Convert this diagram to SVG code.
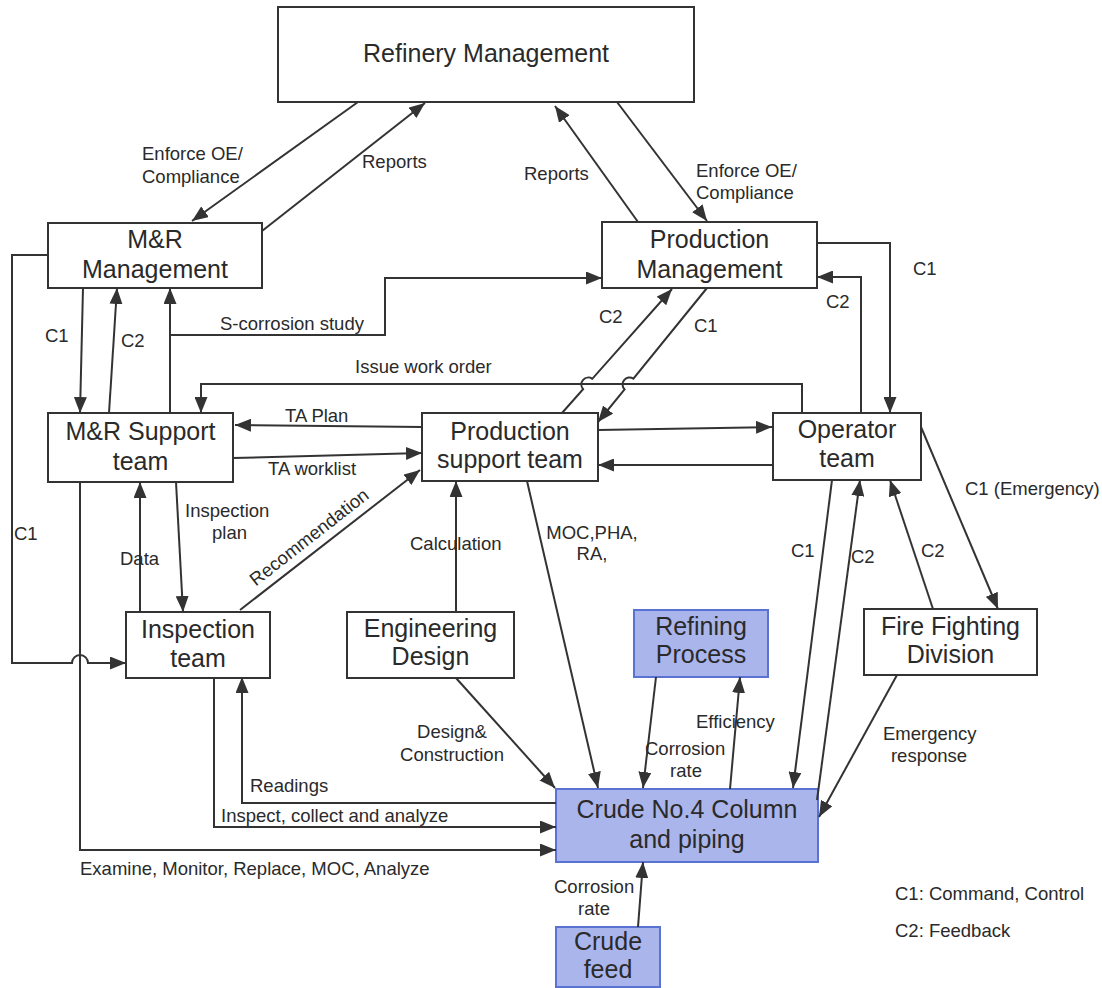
<svg xmlns="http://www.w3.org/2000/svg" width="1102" height="988" viewBox="0 0 1102 988">
  <style>
    .box { fill: #ffffff; stroke: #333333; stroke-width: 2; }
    .blue { fill: #aab5ec; stroke: #5a73d2; stroke-width: 2; }
    .nt { font-family: "Liberation Sans", Arial, sans-serif; font-size: 25px; fill: #2a2a2a; text-anchor: middle; }
    .lt { font-family: "Liberation Sans", Arial, sans-serif; font-size: 18.5px; fill: #2a2a2a; }
    .ln { fill: none; stroke: #333333; stroke-width: 2; }
    .arr { marker-end: url(#ah); }
  </style>
  <defs>
    <marker id="ah" markerUnits="userSpaceOnUse" markerWidth="17" markerHeight="13" refX="16" refY="6.5" orient="auto">
      <path d="M0,0 L16,6.5 L0,13 z" fill="#333333"/>
    </marker>
  </defs>
  <rect width="1102" height="988" fill="#ffffff"/>

  <!-- nodes -->
  <g id="refinery-management">
    <rect class="box" x="278" y="7" width="416" height="95"/>
    <text class="nt" x="486" y="62">Refinery Management</text>
  </g>
  <g id="mr-management">
    <rect class="box" x="48" y="223" width="214" height="65"/>
    <text class="nt" x="155" y="248">M&amp;R</text>
    <text class="nt" x="155" y="278">Management</text>
  </g>
  <g id="production-management">
    <rect class="box" x="602" y="222" width="215" height="66"/>
    <text class="nt" x="709.5" y="248">Production</text>
    <text class="nt" x="709.5" y="278">Management</text>
  </g>
  <g id="mr-support-team">
    <rect class="box" x="48" y="413" width="185" height="69"/>
    <text class="nt" x="140.5" y="440">M&amp;R Support</text>
    <text class="nt" x="140.5" y="470">team</text>
  </g>
  <g id="production-support-team">
    <rect class="box" x="422" y="413" width="176" height="68"/>
    <text class="nt" x="510" y="440">Production</text>
    <text class="nt" x="510" y="468">support team</text>
  </g>
  <g id="operator-team">
    <rect class="box" x="773" y="413" width="148" height="67"/>
    <text class="nt" x="847" y="438">Operator</text>
    <text class="nt" x="847" y="467">team</text>
  </g>
  <g id="inspection-team">
    <rect class="box" x="126" y="612" width="144" height="66"/>
    <text class="nt" x="198" y="638">Inspection</text>
    <text class="nt" x="198" y="667">team</text>
  </g>
  <g id="engineering-design">
    <rect class="box" x="347" y="612" width="167" height="66"/>
    <text class="nt" x="430.5" y="637">Engineering</text>
    <text class="nt" x="430.5" y="665">Design</text>
  </g>
  <g id="refining-process">
    <rect class="blue" x="634" y="610" width="134" height="67"/>
    <text class="nt" x="701" y="635">Refining</text>
    <text class="nt" x="701" y="663">Process</text>
  </g>
  <g id="fire-fighting-division">
    <rect class="box" x="864" y="609" width="173" height="66"/>
    <text class="nt" x="950.5" y="635">Fire Fighting</text>
    <text class="nt" x="950.5" y="663">Division</text>
  </g>
  <g id="crude-column">
    <rect class="blue" x="556" y="789" width="262" height="73"/>
    <text class="nt" x="687" y="818">Crude No.4 Column</text>
    <text class="nt" x="687" y="848">and piping</text>
  </g>
  <g id="crude-feed">
    <rect class="blue" x="556" y="927" width="104" height="60"/>
    <text class="nt" x="608" y="950">Crude</text>
    <text class="nt" x="608" y="978">feed</text>
  </g>

  <!-- connectors -->
  <g id="connectors">
    <!-- refinery management links -->
    <path class="ln arr" d="M358,102 L192,221"/>
    <path class="ln arr" d="M262,231 L425,103"/>
    <path class="ln arr" d="M638,222 L555,106"/>
    <path class="ln arr" d="M617,102 L707,221"/>

    <!-- M&R management / M&R support -->
    <path class="ln arr" d="M83,288 L80,413"/>
    <path class="ln arr" d="M109,413 L117,288"/>
    <path class="ln arr" d="M170,413 L170,288"/>
    <path class="ln arr" d="M170,335 H385 V278 H602"/>

    <!-- C1 from M&R management down to inspection, hopping the vertical -->
    <path class="ln arr" d="M48,255 H12 V663 H72 A8,8 0 0 1 88,663 H126"/>

    <!-- production management right side loops -->
    <path class="ln arr" d="M817,243 H890 V413"/>
    <path class="ln arr" d="M861,413 V277 H817"/>

    <!-- issue work order -->
    <path class="ln arr" d="M802,413 V384 H201 V413"/>

    <!-- production management / production support, hopping the work order line -->
    <path class="ln arr" d="M562,413 L583.1,389.2 A7,7 0 0 1 592.3,378.8 L672,289"/>
    <path class="ln arr" d="M707,288 L633.4,378.6 A7,7 0 0 0 624.6,389.4 L598,422"/>

    <!-- TA plan / worklist -->
    <path class="ln arr" d="M422,427 L235,425"/>
    <path class="ln arr" d="M233,458 L422,453"/>

    <!-- production support / operator -->
    <path class="ln arr" d="M598,430 L772,427"/>
    <path class="ln arr" d="M773,465 L598,465"/>

    <!-- inspection links -->
    <path class="ln arr" d="M140,612 L140,482"/>
    <path class="ln arr" d="M176,482 L183,612"/>
    <path class="ln arr" d="M240,610 L420,470"/>
    <path class="ln arr" d="M456,612 L456,481"/>

    <!-- to crude column from the left -->
    <path class="ln arr" d="M556,803 H242 V677"/>
    <path class="ln arr" d="M214,678 V827 H556"/>
    <path class="ln arr" d="M80,482 V850 H556"/>

    <!-- into the top of the crude column -->
    <path class="ln arr" d="M456,678 L555,788"/>
    <path class="ln arr" d="M527,481 L598,788"/>
    <path class="ln arr" d="M656,677 L643,788"/>
    <path class="ln arr" d="M730,789 L740,677"/>
    <path class="ln arr" d="M832,480 L793,788"/>
    <path class="ln arr" d="M817,800 L860,480"/>

    <!-- fire fighting -->
    <path class="ln arr" d="M933,609 L890,480"/>
    <path class="ln arr" d="M921,427 L998,609"/>
    <path class="ln arr" d="M897,675 L819,817"/>

    <!-- crude feed -->
    <path class="ln arr" d="M638,927 L643,862"/>
  </g>

  <!-- connector labels -->
  <g id="labels">
    <text class="lt" x="142" y="160">Enforce OE/</text>
    <text class="lt" x="142" y="183">Compliance</text>
    <text class="lt" x="362" y="168">Reports</text>
    <text class="lt" x="524" y="180">Reports</text>
    <text class="lt" x="696" y="177">Enforce OE/</text>
    <text class="lt" x="696" y="199">Compliance</text>
    <text class="lt" x="913" y="275">C1</text>
    <text class="lt" x="826" y="308">C2</text>
    <text class="lt" x="599" y="323">C2</text>
    <text class="lt" x="694" y="332">C1</text>
    <text class="lt" x="45" y="342">C1</text>
    <text class="lt" x="121" y="347">C2</text>
    <text class="lt" x="220" y="330">S-corrosion study</text>
    <text class="lt" x="355" y="373">Issue work order</text>
    <text class="lt" x="285" y="422">TA Plan</text>
    <text class="lt" x="268" y="475">TA worklist</text>
    <text class="lt" x="965" y="495">C1 (Emergency)</text>
    <text class="lt" x="185" y="517">Inspection</text>
    <text class="lt" x="212" y="539">plan</text>
    <text class="lt" x="14" y="540">C1</text>
    <text class="lt" x="120" y="565">Data</text>
    <text class="lt" x="410" y="550">Calculation</text>
    <text class="lt" x="313" y="542" text-anchor="middle" transform="rotate(-38 313 542)">Recommendation</text>
    <text class="lt" x="592" y="539" text-anchor="middle">MOC,PHA,</text>
    <text class="lt" x="592" y="560" text-anchor="middle">RA,</text>
    <text class="lt" x="791" y="557">C1</text>
    <text class="lt" x="851" y="563">C2</text>
    <text class="lt" x="921" y="557">C2</text>
    <text class="lt" x="696" y="728">Efficiency</text>
    <text class="lt" x="645" y="755">Corrosion</text>
    <text class="lt" x="686" y="777" text-anchor="middle">rate</text>
    <text class="lt" x="883" y="740">Emergency</text>
    <text class="lt" x="929" y="762" text-anchor="middle">response</text>
    <text class="lt" x="452" y="738" text-anchor="middle">Design&amp;</text>
    <text class="lt" x="452" y="761" text-anchor="middle">Construction</text>
    <text class="lt" x="250" y="792">Readings</text>
    <text class="lt" x="221" y="822">Inspect, collect and analyze</text>
    <text class="lt" x="80" y="875">Examine, Monitor, Replace, MOC, Analyze</text>
    <text class="lt" x="554" y="893">Corrosion</text>
    <text class="lt" x="594" y="915" text-anchor="middle">rate</text>
    <text class="lt" x="895" y="900">C1: Command, Control</text>
    <text class="lt" x="895" y="937">C2: Feedback</text>
  </g>
</svg>
